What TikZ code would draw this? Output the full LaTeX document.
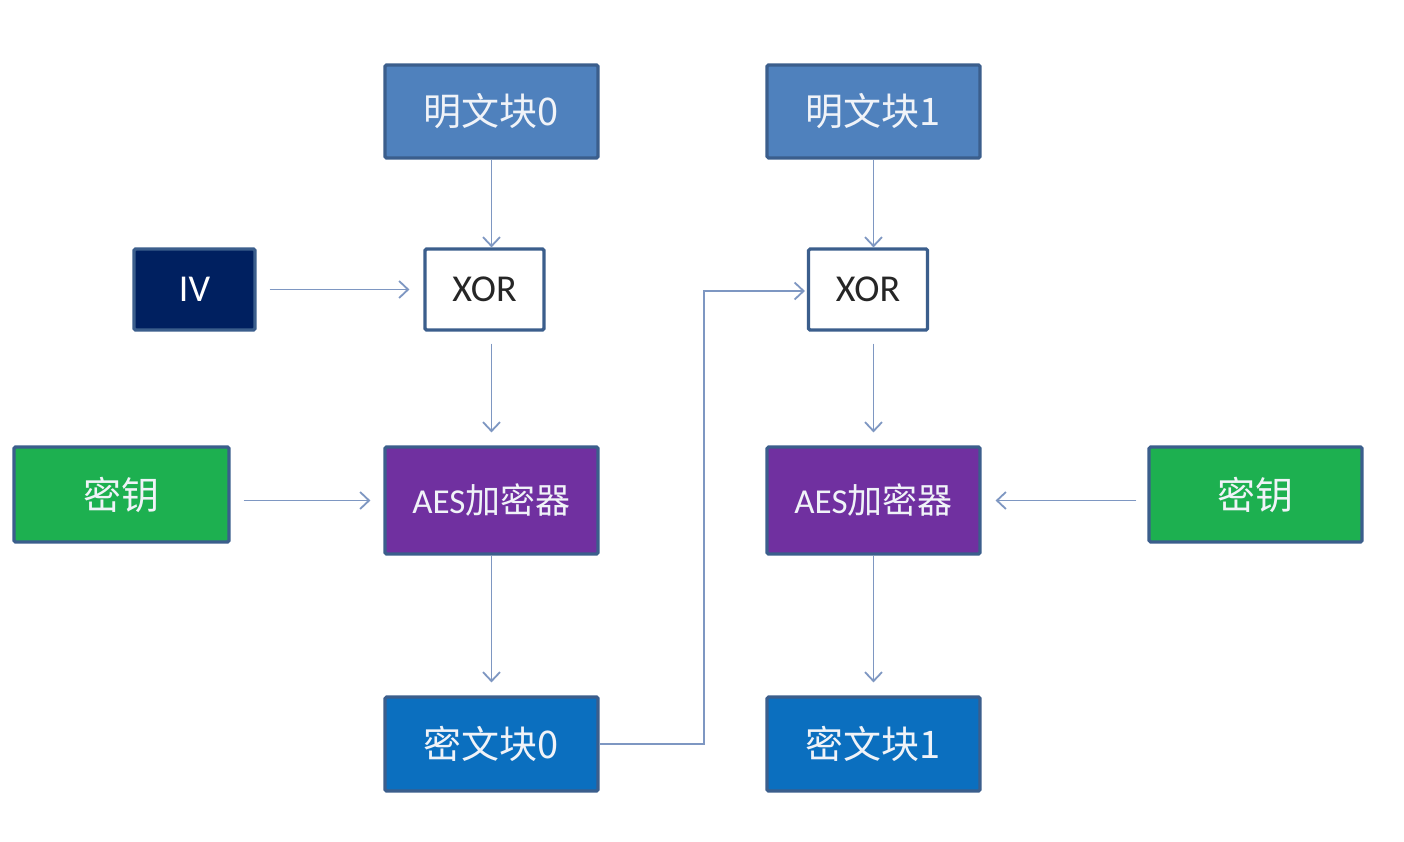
\documentclass[tikz,border=0pt]{standalone}
\usepackage{fontspec}
\setmainfont{Carlito}
\newfontfamily\cjk{Noto Sans CJK SC}
\usetikzlibrary{arrows.meta}
\definecolor{ptblue}{HTML}{4F81BD}
\definecolor{ivblue}{HTML}{002060}
\definecolor{keygreen}{HTML}{1DB050}
\definecolor{aespurple}{HTML}{7030A0}
\definecolor{ctblue}{HTML}{0B6FBF}
\definecolor{edge}{HTML}{3B5E8C}
\definecolor{arrowc}{HTML}{7E97C2}
\definecolor{txt}{HTML}{F0F3F8}
\tikzset{
  blk/.style={draw=edge, line width=3.2pt, rounded corners=1.5pt, inner sep=0pt, text=txt, align=center},
  big/.style={font=\cjk\fontsize{38}{44}\selectfont},
  arr/.style={draw=arrowc, line width=1.8pt, -{Straight Barb[length=9pt,width=17pt,line width=1.8pt]}},
}
\begin{document}
\begin{tikzpicture}[x=1pt,y=-1pt]
\path[fill=white] (0,0) rectangle (1404,842);
\useasboundingbox (0,0) rectangle (1404,842);

% plaintext blocks
\node[blk, big, fill=ptblue, minimum width=213pt, minimum height=93pt] (pt0) at (491.5,111.5) {明文块0};
\node[blk, big, fill=ptblue, minimum width=213pt, minimum height=93pt] (pt1) at (873.5,111.5) {明文块1};

% XOR
\node[blk, fill=white, text=black!85, font=\fontsize{38}{44}\selectfont, minimum width=119pt, minimum height=81pt] (xor0) at (484.5,289.5) {XOR};
\node[blk, fill=white, text=black!85, font=\fontsize{38}{44}\selectfont, minimum width=119pt, minimum height=81pt] (xor1) at (868,289.5) {XOR};

% IV
\node[blk, fill=ivblue, text=white, font=\fontsize{38}{44}\selectfont, minimum width=121pt, minimum height=81pt] (iv) at (194.5,289.5) {IV};

% keys
\node[blk, big, fill=keygreen, minimum width=215pt, minimum height=95pt] (key0) at (121.5,494.5) {密钥};
\node[blk, big, fill=keygreen, minimum width=213pt, minimum height=95pt] (key1) at (1255.5,494.5) {密钥};

% AES
\node[blk, fill=aespurple, minimum width=213pt, minimum height=107pt, font=\fontsize{35}{42}\selectfont] (aes0) at (491.5,500.5) {AES{\cjk 加密器}};
\node[blk, fill=aespurple, minimum width=213pt, minimum height=107pt, font=\fontsize{35}{42}\selectfont] (aes1) at (873.5,500.5) {AES{\cjk 加密器}};

% ciphertext
\node[blk, big, fill=ctblue, minimum width=213pt, minimum height=94pt] (ct0) at (491.5,744) {密文块0};
\node[blk, big, fill=ctblue, minimum width=213pt, minimum height=94pt] (ct1) at (873.5,744) {密文块1};

\coordinate (fb) at (704,291);

% arrows
\draw[arr] (pt0.south) -- (pt0.south |- xor0.north);
\draw[arr, shorten <=13pt, shorten >=14pt] (iv.east) -- (xor0.west);
\draw[arr, shorten <=12pt, shorten >=13pt] (pt0.south |- xor0.south) -- (pt0.south |- aes0.north);
\draw[arr, shorten <=13pt, shorten >=13pt] (key0.east |- aes0.west) -- (aes0.west);
\draw[arr, shorten >=13pt] (aes0.south) -- (ct0.north);

\draw[arr, shorten >=2pt] (ct0.east) -- (ct0.east -| fb) -- (fb) -- (xor1.west |- fb);

\draw[arr] (pt1.south) -- (pt1.south |- xor1.north);
\draw[arr, shorten <=12pt, shorten >=13pt] (pt1.south |- xor1.south) -- (pt1.south |- aes1.north);
\draw[arr, shorten <=11pt, shorten >=14pt] (key1.west |- aes1.east) -- (aes1.east);
\draw[arr, shorten >=13pt] (aes1.south) -- (ct1.north);
\end{tikzpicture}
\end{document}
